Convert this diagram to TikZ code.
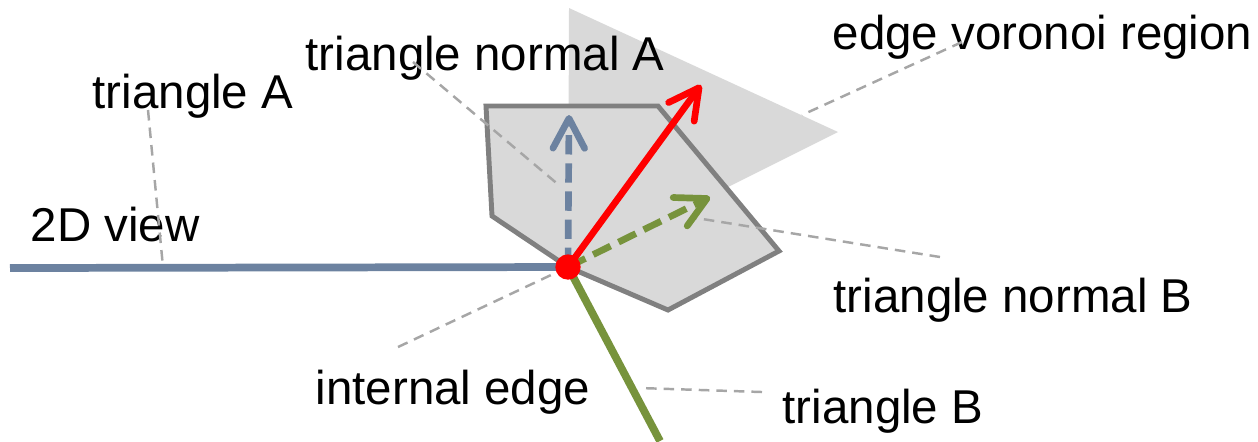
\documentclass[tikz,border=0pt]{standalone}
\usepackage{xcolor}
\usepackage{fontspec}
\setmainfont{Liberation Sans}
\usepackage{tikz}
\usetikzlibrary{arrows.meta}
\definecolor{viewBlue}    {RGB}{108, 130, 160}
\definecolor{triGreen}    {RGB}{119, 147,  60}
\definecolor{regionGray}  {RGB}{217, 217, 217}
\definecolor{outlineGray} {RGB}{128, 128, 128}
\definecolor{leaderGray}  {RGB}{166, 166, 166}

\begin{document}
\begin{tikzpicture}[x=0.01cm,y=-0.01cm,
    lbl/.style={font=\fontsize{13.5}{16}\selectfont,anchor=base west,inner sep=0pt},
    leader/.style={leaderGray,line width=0.7pt,dash pattern=on 3pt off 2pt},
    vec/.style={line width=1.9pt,
      -{Straight Barb[length=8.5pt,width=9pt,line cap=round,line join=round]}},
    dashvec/.style={vec,dash pattern=on 5.5pt off 2.5pt}]
        \useasboundingbox (0,0) rectangle (1258,441);
        % Ponto comum (aresta interna)
        \coordinate (edge) at (568,267);
        % Regiao de Voronoi da aresta
        \fill[regionGray] (569,8) -- (838,132) -- (edge) -- cycle;
        % Triangulos A e B vistos de lado
        \filldraw[fill=regionGray,draw=outlineGray,line width=1.4pt]
          (486,106) -- (658,106) -- (779,251) -- (668,310) -- (edge)
          -- (492,216) -- cycle;

        % Rotulos
        \node[lbl] (triA)   at (92,108)  {triangle A};
        \node[lbl] (view)   at (30,241)  {2D view};
        \node[lbl] (normA)  at (305,70)  {triangle normal A};
        \node[lbl] (region) at (832,49)  {edge voronoi region};
        \node[lbl] (normB)  at (833,312) {triangle normal B};
        \node[lbl] (inner)  at (315,404) {internal edge};
        \node[lbl] (triB)   at (782,423) {triangle B};

        % Pontas das linhas de chamada
        \coordinate (triA-s)   at (148,110);  \coordinate (triA-e)   at (163,267);
        \coordinate (normA-s)  at (413,62);   \coordinate (normA-e)  at (560,186);
        \coordinate (region-s) at (962,42);   \coordinate (region-e) at (802,115);
        \coordinate (normB-s)  at (940,257);  \coordinate (normB-e)  at (690,217);
        \coordinate (inner-s)  at (398,347);
        \coordinate (triB-s)   at (762,392);  \coordinate (triB-e)   at (640,388);
        \foreach \a/\b in {triA-s/triA-e, normA-s/normA-e, region-s/region-e,
                           normB-s/normB-e, inner-s/edge, triB-s/triB-e}{
          \draw[leader] (\a) -- (\b);
        }

        % Vista 2D e triangulo B
        \coordinate (viewEnd) at (10,268);
        \coordinate (triBEnd) at (660,441);
        \draw[viewBlue,line width=2.2pt] (viewEnd) -- (edge);
        \draw[triGreen,line width=2.2pt] (edge) -- (triBEnd);

        % Normais
        \coordinate (nA) at (569,115);
        \coordinate (nB) at (710,197);
        \coordinate (nE) at (701,85);
        \draw[dashvec,viewBlue] (edge) -- (nA);
        \draw[dashvec,triGreen] (edge) -- (nB);
        \draw[vec,red] (edge) -- (nE);
        \fill[red] (edge) circle (3.6pt);
      \end{tikzpicture}
\end{document}
